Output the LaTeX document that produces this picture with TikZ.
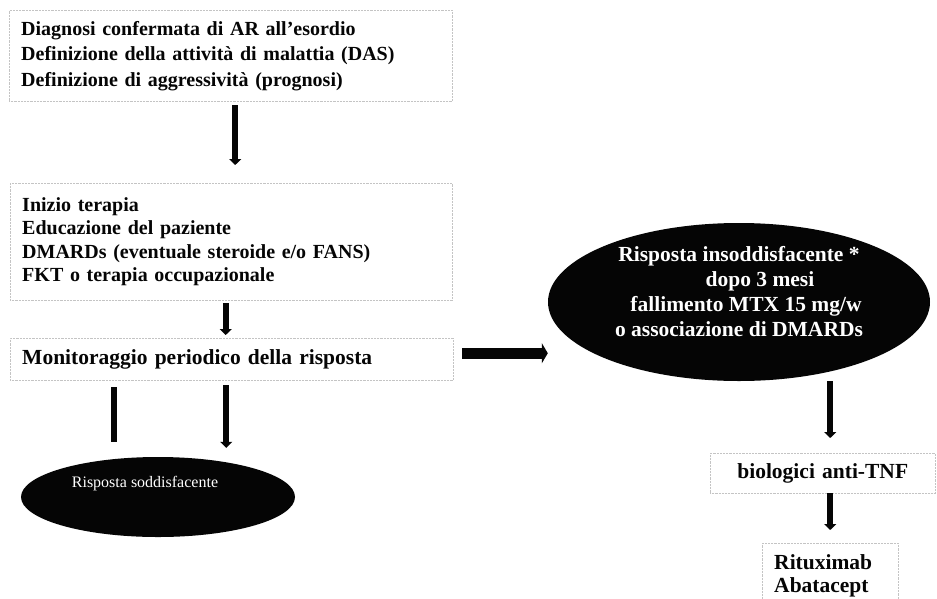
\documentclass[tikz,border=0pt]{standalone}
\usepackage{fontspec}
\setmainfont{Liberation Serif}
\usetikzlibrary{arrows.meta,shapes.geometric}
\definecolor{FlowInk}{HTML}{050505}
\definecolor{FlowFrame}{HTML}{C4C4C4}
\definecolor{FlowPaper}{HTML}{FFFFFF}

\begin{document}
\begin{tikzpicture}[x=1pt,y=-1pt,
    box/.style={draw=FlowFrame,densely dotted,line width=0.45pt,anchor=north west,inner xsep=12pt,inner ysep=0pt,
      align=left,text=FlowInk,font=\fontsize{20}{25.5}\selectfont\bfseries},
    blob/.style={ellipse,fill=FlowInk,inner sep=0pt,text=FlowPaper},
    arr/.style={FlowInk,line width=6pt,-{Triangle[width=12pt,length=6pt]}},
    bar/.style={FlowInk,line width=6pt},
    fatarr/.style={FlowInk,line width=11pt,-{Triangle[width=20pt,length=6pt]}}]
      \useasboundingbox[fill=FlowPaper] (0,0) rectangle (937,598);
      % left column
      \node[box,minimum width=443pt,minimum height=91pt,text width=419pt] (diag) at (9,10)
        {Diagnosi confermata di AR all’esordio\\Definizione della attività di malattia (DAS)\\Definizione di aggressività (prognosi)};
      \node[box,minimum width=442pt,minimum height=117pt,text width=418pt,font=\fontsize{20}{23.5}\selectfont\bfseries] (ther) at (10,183)
        {Inizio terapia\\Educazione del paziente\\DMARDs (eventuale steroide e/o FANS)\\FKT o terapia occupazionale};
      \node[box,minimum width=443pt,minimum height=42pt,text width=419pt,font=\fontsize{21.5}{25}\selectfont\bfseries] (mon) at (10,338)
        {Monitoraggio periodico della risposta};
      \node[blob,minimum width=274pt,minimum height=80pt,font=\fontsize{16}{18}\selectfont] (sod) at (158,497)
        {\raisebox{13pt}[\height][\depth]{Risposta soddisfacente}\hspace*{26pt}};
      % right column
      \node[blob,minimum width=382pt,minimum height=158pt,font=\fontsize{21.5}{25}\selectfont\bfseries] (ins) at (739,302)
        {\raisebox{8pt}[\height][\depth]{\begin{tabular}{@{}c@{}}Risposta insoddisfacente *\\\hspace*{42pt}dopo 3 mesi\\\hspace*{14pt}fallimento MTX 15 mg/w\\o associazione di DMARDs\end{tabular}}};
      \node[box,minimum width=225pt,minimum height=40pt,text width=201pt,align=center,font=\fontsize{21.5}{24}\selectfont\bfseries] (anti) at (710,453) {biologici anti-TNF};
      \node[box,minimum width=136pt,minimum height=66pt,text width=112pt,font=\fontsize{21.5}{23}\selectfont\bfseries] (rit) at (762,543) {Rituximab\\Abatacept};
      % connectors
      \draw[arr,shorten <=4pt,shorten >=18pt] ([xshift=4.5pt]diag.south) -- ([xshift=4.5pt]diag.south |- ther.north);
      \draw[arr,shorten <=3pt,shorten >=3pt] ([xshift=-5.5pt]ther.south) -- ([xshift=-5.5pt]ther.south |- mon.north);
      \draw[bar,shorten <=7pt,shorten >=15pt] ([xshift=-117.5pt]mon.south) -- ([xshift=-117.5pt]mon.south |- sod.north);
      \draw[arr,shorten <=5pt,shorten >=9pt] ([xshift=-5.5pt]mon.south) -- ([xshift=-5.5pt]mon.south |- sod.north);
      \draw[fatarr,shorten <=9pt] ([yshift=6pt]mon.east) -- ([yshift=6pt]mon.east -| ins.west);
      \draw[arr,shorten <=0pt,shorten >=15pt] (ins.south -| rit.north) -- (anti.north -| rit.north);
      \draw[arr,shorten >=13pt] (anti.south -| rit.north) -- (rit.north);
\end{tikzpicture}
\end{document}
